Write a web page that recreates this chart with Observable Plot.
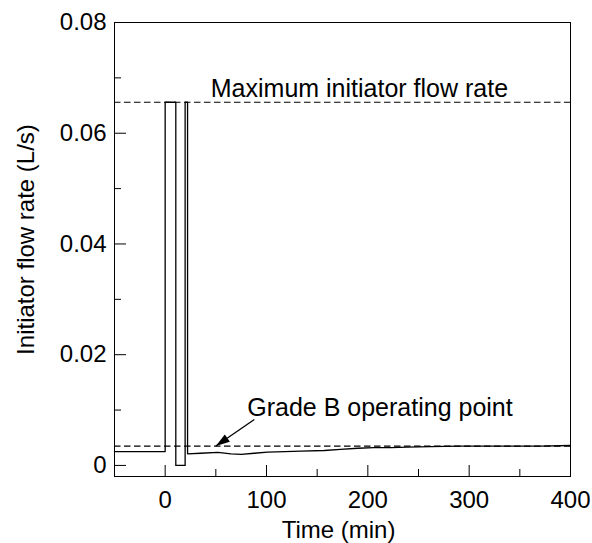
<!DOCTYPE html>
<html><head><meta charset="utf-8">
<script src="https://cdn.jsdelivr.net/npm/d3@7"></script>
<script src="https://cdn.jsdelivr.net/npm/@observablehq/plot@0.6"></script>
<style>body{margin:0;background:#fff} #chart{width:592px;height:543px}</style>
</head><body><div id="chart"></div>
<script>
// Time (min) and initiator flow rate (L/s)
const time = [-50, 0, 0, 10.5, 10.5, 19.7, 19.7, 22.1, 22.1, 35, 52, 65, 75, 88, 101, 118, 134, 157, 173, 190, 206, 223, 239, 262, 290, 330, 370, 400];
const flow = [0.0025, 0.0025, 0.0656, 0.0656, 0, 0, 0.0656, 0.0656, 0.0021, 0.0022, 0.00235, 0.0021, 0.0020, 0.0022, 0.0024, 0.0025, 0.0026, 0.0027, 0.0029, 0.0031, 0.0032, 0.0032, 0.0033, 0.0034, 0.0035, 0.0035, 0.0035, 0.0036];
const maxRate = 0.0656;
const gradeB = 0.0035;
const xMajor = [0, 100, 200, 300, 400];
const xMinor = [50, 150, 250, 350];
const yMajor = [0, 0.02, 0.04, 0.06, 0.08];
const yMinor = [0.01, 0.03, 0.05, 0.07];
const xLabel = "Time (min)";
const yLabel = "Initiator flow rate (L/s)";
const maxLabel = "Maximum initiator flow rate";
const gradeLabel = "Grade B operating point";
const maxLabelX = 45;
const gradeLabelX = 81;
const arrowFrom = {x: 88, y: 0.0083};
const arrowTo = {x: 50, y: gradeB};

const data = time.map((t, i) => ({t, f: flow[i]}));

const W = 592, H = 543, mL = 114, mR = 22, mT = 22, mB = 67;
const xDomain = [-50, 400], yDomain = [-0.002, 0.08];
const plotW = W - mL - mR, plotH = H - mT - mB;
const font = "'Liberation Sans', Arial, Helvetica, sans-serif";

// arrowhead: filled narrow triangle with its tip at the origin, pointing up
const headSymbol = {draw(ctx) { ctx.moveTo(0, 0); ctx.lineTo(-4.5, 14); ctx.lineTo(4.5, 14); ctx.closePath(); }};
const pxX = plotW / (xDomain[1] - xDomain[0]);
const pxY = plotH / (yDomain[1] - yDomain[0]);
const ddx = (arrowTo.x - arrowFrom.x) * pxX;
const ddy = -(arrowTo.y - arrowFrom.y) * pxY;
const headAngle = Math.atan2(ddx, -ddy) * 180 / Math.PI;

const chart = Plot.plot({
  width: W, height: H,
  marginLeft: mL, marginRight: mR, marginTop: mT, marginBottom: mB,
  style: {fontFamily: font, fontSize: "24px", color: "black", background: "white"},
  x: {domain: xDomain, axis: null},
  y: {domain: yDomain, axis: null},
  marks: [
    Plot.ruleY([maxRate, gradeB], {stroke: "black", strokeWidth: 1.2, strokeDasharray: "6.5,3.5"}),
    Plot.line(data, {x: "t", y: "f", stroke: "black", strokeWidth: 1.3}),
    Plot.tickX(xMajor, {x: d => d, stroke: "black", insetTop: plotH - 11}),
    Plot.tickX(xMinor, {x: d => d, stroke: "black", insetTop: plotH - 7}),
    Plot.tickY(yMajor, {y: d => d, stroke: "black", insetRight: plotW - 12}),
    Plot.tickY(yMinor, {y: d => d, stroke: "black", insetRight: plotW - 7}),
    Plot.axisX(xMajor, {tickSize: 0, tickPadding: 14, fontSize: 24, label: null, tickFormat: d => String(d)}),
    Plot.axisY(yMajor, {tickSize: 0, tickPadding: 8, fontSize: 24, label: null, tickFormat: d => d === 0 ? "0" : d.toFixed(2)}),
    Plot.text([xLabel], {frameAnchor: "bottom", dy: 61, dx: -4, lineAnchor: "bottom", fontSize: 24}),
    Plot.text([yLabel], {frameAnchor: "left", textAnchor: "middle", rotate: -90, dx: -81, dy: -10, lineAnchor: "bottom", fontSize: 24}),
    Plot.text([maxLabel], {x: maxLabelX, y: maxRate, dy: -5.5, textAnchor: "start", lineAnchor: "bottom", fontSize: 25}),
    Plot.text([gradeLabel], {x: gradeLabelX, y: gradeB, dy: -30.5, textAnchor: "start", lineAnchor: "bottom", fontSize: 25}),
    Plot.link([{x1: arrowFrom.x, y1: arrowFrom.y, x2: arrowTo.x, y2: arrowTo.y}], {x1: "x1", y1: "y1", x2: "x2", y2: "y2", stroke: "black", strokeWidth: 1.3}),
    Plot.dot([arrowTo], {x: "x", y: "y", symbol: headSymbol, rotate: headAngle, fill: "black", stroke: "none"}),
    Plot.frame({stroke: "black", strokeWidth: 1})
  ]
});
document.getElementById("chart").appendChild(chart);
</script>
</body></html>
